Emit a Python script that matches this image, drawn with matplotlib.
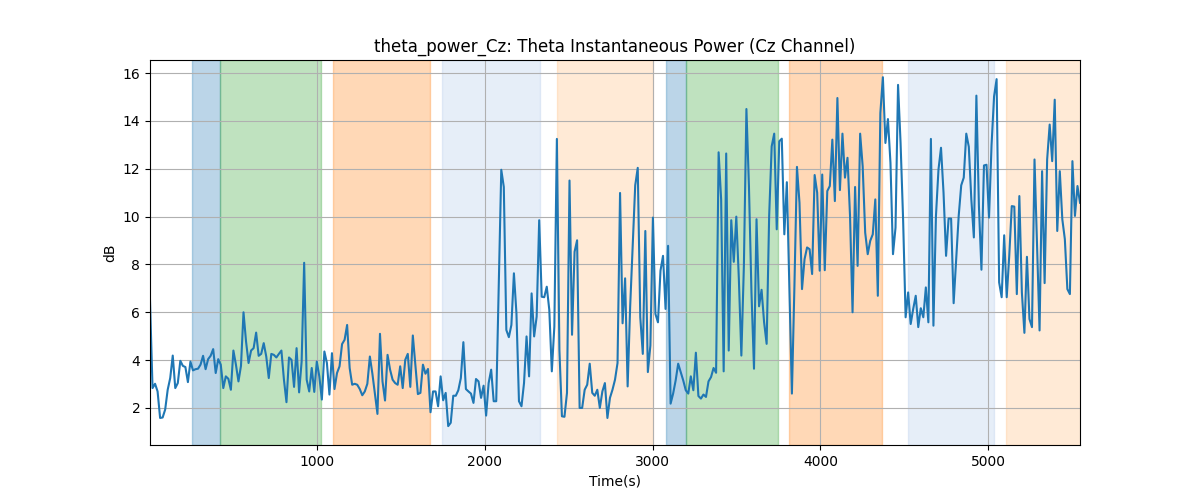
import numpy as np
import matplotlib
matplotlib.use("Agg")
import matplotlib.pyplot as plt

# ======================== data ======================== #
first_time = 5.0             # time of the first sample (s)
sample_step = 15.06          # seconds between samples

theta_power_cz = [
    6.5,
    # 0 - 730 s
    2.83, 3.01, 2.69, 1.58, 1.6, 1.93, 2.76, 3.25, 4.19, 2.83,
    3.04, 3.97, 3.76, 3.71, 3.08, 3.94, 3.57, 3.62, 3.64, 3.81,
    4.18, 3.62, 4.04, 4.18, 4.46, 3.46, 4.04, 3.81, 2.83, 3.32,
    3.22, 2.76, 4.4, 3.81, 3.11, 3.76, 6.0, 4.78, 3.88, 4.4,
    4.5, 5.15, 4.18, 4.26, 4.71, 4.15, 3.25, 4.26,
    # ~730 - 1450 s
    4.22, 4.11, 4.26, 4.40, 3.18, 2.24, 4.11, 4.01, 2.88, 4.5,
    2.65, 3.94, 8.07, 3.18, 2.69, 3.67, 2.67, 3.94, 3.32, 2.35,
    4.36, 3.88, 2.56, 4.29, 2.79, 3.46, 3.74, 4.67, 4.85, 5.47,
    3.67, 2.97, 3.01, 2.97, 2.79, 2.53, 2.69, 3.01, 4.15, 3.43,
    2.60, 1.75, 5.1, 3.11, 2.31, 4.22, 3.6, 3.18,
    # ~1450 - 2170 s
    3.04, 2.97, 3.74, 2.83, 4.01, 4.26, 2.88, 5.03, 3.81, 2.58,
    2.63, 3.81, 3.43, 3.63, 1.82, 2.69, 2.69, 2.07, 3.32, 2.32,
    2.63, 1.24, 1.38, 2.51, 2.51, 2.74, 3.25, 4.75, 2.79, 2.69,
    2.6, 2.21, 3.21, 3.11, 2.42, 2.93, 1.68, 3.04, 3.6, 2.28,
    2.28, 7.1, 11.96, 11.24, 5.26, 4.96, 5.47, 7.63,
    # ~2170 - 2900 s
    5.96, 2.28, 2.07, 3.04, 4.99, 3.32, 6.79, 4.99, 5.82, 9.85,
    6.65, 6.63, 7.07, 6.1, 3.53, 5.4, 13.25, 4.43, 1.65, 1.63,
    2.63, 11.51, 5.06, 8.53, 9.01, 2.0, 2.0, 2.76, 2.97, 3.85,
    2.63, 2.51, 2.76, 2.0, 2.69, 3.04, 1.58, 2.42, 2.76, 3.18,
    3.88, 10.99, 5.54, 7.42, 2.9, 6.24, 8.74, 11.31,
    # ~2900 - 3600 s
    12.04, 5.79, 4.26, 9.40, 3.5, 4.61, 9.96, 5.93, 5.58, 7.74,
    8.36, 6.14, 8.78, 2.18, 2.6, 3.15, 3.85, 3.5, 3.15, 2.74,
    2.6, 3.32, 2.74, 4.31, 2.5, 2.39, 2.56, 2.46, 3.11, 3.29,
    3.67, 3.47, 12.69, 10.72, 3.53, 12.64, 4.4, 9.85, 8.11, 10.0,
    7.42, 4.19, 7.94, 14.5, 11.28, 6.83, 3.64,
    # ~3600 - 4330 s
    9.89, 6.25, 6.94, 5.58, 4.68, 10.03, 12.94, 13.47, 9.47, 13.15,
    13.26, 9.26, 11.44, 7.0, 2.6, 7.11, 12.08, 10.58, 6.97, 8.22,
    8.71, 8.64, 7.6, 11.74, 11.0, 7.74, 11.76, 7.76, 11.07, 11.28,
    13.22, 10.65, 14.96, 11.11, 13.47, 11.63, 12.46, 10.03, 6.0, 11.24,
    7.94, 13.47, 12.11, 9.33, 8.43, 8.99, 9.26, 10.72,
    # ~4330 - 4980 s
    6.69, 14.33, 15.83, 13.08, 14.08, 12.25, 8.43, 9.54, 15.51, 13.08,
    9.89, 5.79, 6.83, 5.51, 6.14, 6.69, 5.38, 6.17, 5.79, 7.04,
    5.58, 13.25, 5.44, 10.03, 11.97, 12.88, 11.0, 8.36, 9.92, 9.92,
    6.38, 8.22, 10.03, 11.31, 11.63, 13.47, 12.92, 10.72, 9.13, 15.06,
    10.44, 7.78, 12.14,
    # ~4980 s - end
    12.17, 9.96, 13.0, 15.03, 15.75, 7.25, 6.63, 9.22, 6.63, 8.36,
    10.44, 10.42, 6.76, 10.86, 6.83, 5.14, 8.32, 5.72, 5.38, 12.39,
    8.8, 5.24, 11.9, 7.22, 12.39, 13.85, 12.32, 14.89, 9.40, 11.9,
    9.89, 9.06, 6.97, 6.76, 12.32, 10.03, 11.28, 10.58,
]

# stage blocks (start s, end s, colour)
span_starts = [255, 422, 1095, 1745, 2430, 3080, 3202, 3810, 4525, 5107]
span_ends = [422, 1025, 1672, 2330, 3005, 3202, 3746, 4366, 5032, 5600]
span_colors = ["tab:blue", "tab:green", "tab:orange", "#aec7e8", "#ffbb78",
               "tab:blue", "tab:green", "tab:orange", "#aec7e8", "#ffbb78"]

values = np.array(theta_power_cz)
times = first_time + np.arange(len(values)) * sample_step

# ======================== plot ======================== #
fig, ax = plt.subplots(figsize=(12, 5), dpi=100)

for s, e, c in zip(span_starts, span_ends, span_colors):
    ax.axvspan(s, e, color=c, alpha=0.3)

ax.plot(times, values, color="tab:blue", linewidth=1.5)

ax.set_xlim(times[0], times[-1])
ax.set_ylim(0.45, 16.55)
ax.set_title("theta_power_Cz: Theta Instantaneous Power (Cz Channel)")
ax.set_xlabel("Time(s)")
ax.set_ylabel("dB")
ax.grid(True)

fig.savefig("out.png", dpi=100)
